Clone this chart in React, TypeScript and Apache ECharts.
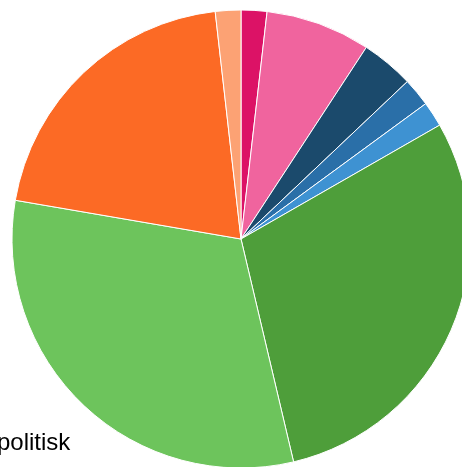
import React, { useEffect, useRef } from "react";
import * as echarts from "echarts";

const categories = ["A", "B", "C", "D", "E", "F", "G", "H", "I"];
const values = [1.82, 7.4, 3.72, 2.0, 1.78, 29.6, 31.4, 20.5, 1.8];
const colors = ["#dc1266", "#f0649e", "#1b4a6c", "#2a6fa8", "#3e92d2", "#4e9e3a", "#6dc45c", "#fc6a25", "#fca274"];
const labelText = "politisk";

export default function App() {
  const ref = useRef<HTMLDivElement>(null);
  useEffect(() => {
    const chart = echarts.init(ref.current!, undefined, { renderer: "svg" });
    chart.setOption({
      animation: false,
      series: [
        {
          type: "pie",
          center: [241, 239],
          radius: 229,
          startAngle: 90,
          clockwise: true,
          label: { show: false },
          labelLine: { show: false },
          itemStyle: { borderColor: "#ffffff", borderWidth: 1 },
          data: categories.map((c, i) => ({ name: c, value: values[i], itemStyle: { color: colors[i] } })),
        },
      ],
      graphic: [
        {
          type: "text",
          left: -3,
          top: 429,
          style: { text: labelText, fontSize: 24, fill: "#000", fontFamily: "Liberation Sans, Arial, sans-serif" },
        },
      ],
    });
    return () => chart.dispose();
  }, []);
  return <div ref={ref} style={{ position: "fixed", left: 0, top: 0, width: 462, height: 467 }} />;
}
